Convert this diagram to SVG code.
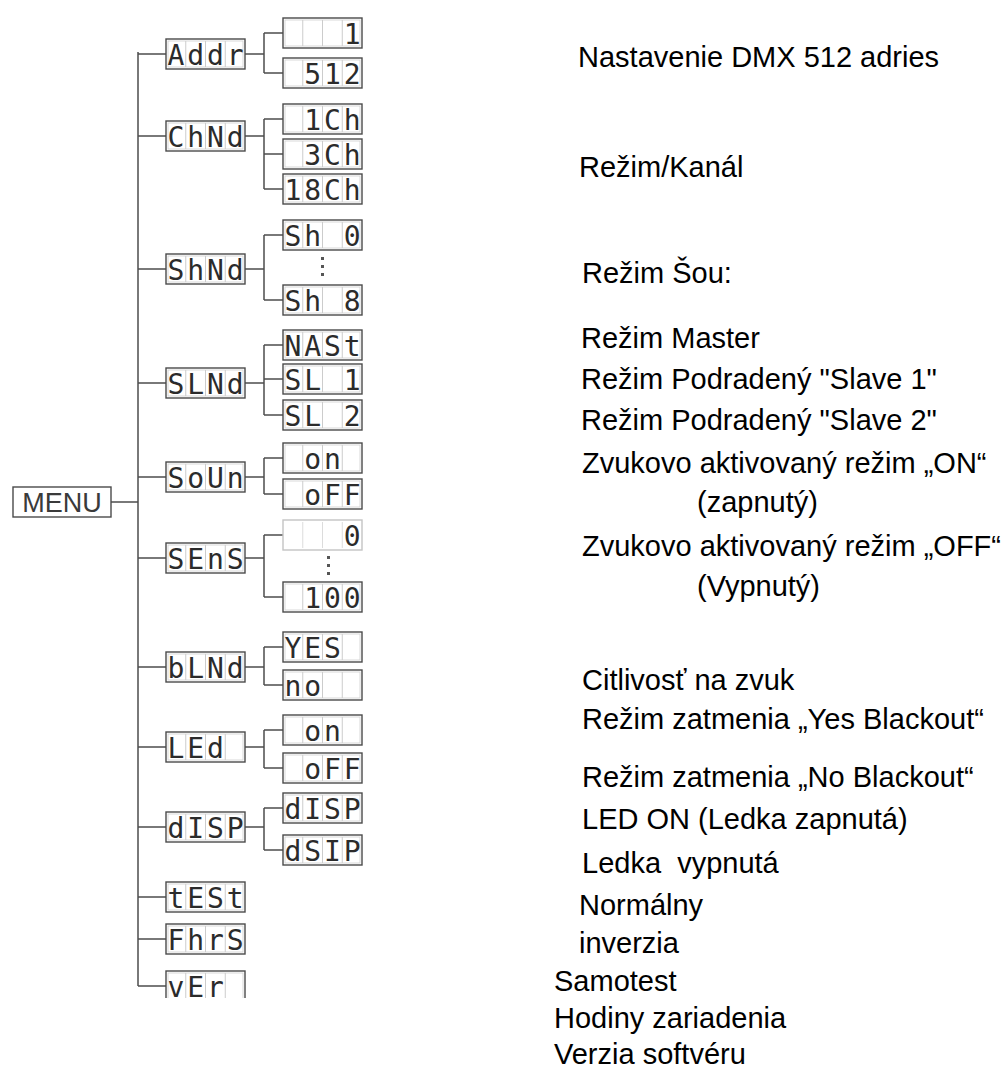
<svg xmlns="http://www.w3.org/2000/svg" width="1006" height="1071" viewBox="0 0 1006 1071">
<style>
.conn{fill:none;stroke:#4d4d4d;stroke-width:1.5}
.seg{font-family:"DejaVu Sans Mono","Liberation Mono",monospace;font-size:28px;fill:#2b2b2b;text-anchor:middle}
.lbl{font-family:"Liberation Sans",Arial,sans-serif;font-size:29px;fill:#000;white-space:pre}
.menu{font-family:"Liberation Sans",Arial,sans-serif;font-size:27px;fill:#3a3a3a;text-anchor:middle}
.dot{fill:#555}
</style>
<defs>
<g id="lcd">
<rect x="0" y="0" width="79" height="30" fill="#fff" stroke="#4a4a4a" stroke-width="1.4"/>
<rect x="2" y="2" width="75" height="26" fill="none" stroke="#cfcfcf" stroke-width="0.8"/>
<path d="M19.75 2v26M39.5 2v26M59.25 2v26" stroke="#cccccc" stroke-width="1"/>
</g>
<g id="lcdFaint">
<rect x="0" y="0" width="79" height="30" fill="#fff" stroke="#c4c4c4" stroke-width="1.4"/>
<path d="M19.75 2v26M39.5 2v26M59.25 2v26" stroke="#dcdcdc" stroke-width="1"/>
</g>
<clipPath id="clipVer"><rect x="150" y="960" width="110" height="38"/></clipPath>
</defs>

<g id="connectors" class="conn">
<path d="M138 52V986"/>
<path d="M111 502H138"/>
<path d="M138 54H166M138 136H166M138 269H166M138 383H166M138 477H166M138 558H166M138 667H166M138 747H166M138 827H166M138 897H166M138 939H166M138 986H166"/>
<path d="M245 54H264M264 33V73M264 33H283M264 73H283"/>
<path d="M245 136H264M264 119V189M264 119H283M264 154H283M264 189H283"/>
<path d="M245 269H264M264 235V300M264 235H283M264 300H283"/>
<path d="M245 383H264M264 345V415M264 345H283M264 379H283M264 415H283"/>
<path d="M245 477H264M264 458V494M264 458H283M264 494H283"/>
<path d="M245 558H264M264 535V597M264 535H283M264 597H283"/>
<path d="M245 667H264M264 647V685M264 647H283M264 685H283"/>
<path d="M245 747H264M264 730V768M264 730H283M264 768H283"/>
<path d="M245 827H264M264 808V850M264 808H283M264 850H283"/>
</g>

<g id="menu">
<rect x="13" y="487" width="98" height="30" fill="#fff" stroke="#4a4a4a" stroke-width="1.4"/>
<text class="menu" x="62" y="512">MENU</text>
</g>

<g id="addr"><use href="#lcd" x="166" y="39"/><text class="seg" x="176 195.6 215.4 235.1" y="65">Addr</text></g>
<g id="addr-1"><use href="#lcd" x="283" y="18"/><text class="seg" x="352.1" y="44">1</text></g>
<g id="addr-512"><use href="#lcd" x="283" y="58"/><text class="seg" x="312.6 332.4 352.1" y="84">512</text></g>

<g id="chnd"><use href="#lcd" x="166" y="121"/><text class="seg" x="176 195.6 215.4 235.1" y="147">ChNd</text></g>
<g id="ch-1"><use href="#lcd" x="283" y="104"/><text class="seg" x="312.6 332.4 352.1" y="130">1Ch</text></g>
<g id="ch-3"><use href="#lcd" x="283" y="139"/><text class="seg" x="312.6 332.4 352.1" y="165">3Ch</text></g>
<g id="ch-18"><use href="#lcd" x="283" y="174"/><text class="seg" x="293 312.6 332.4 352.1" y="200">18Ch</text></g>

<g id="shnd"><use href="#lcd" x="166" y="254"/><text class="seg" x="176 195.6 215.4 235.1" y="280">ShNd</text></g>
<g id="sh-0"><use href="#lcd" x="283" y="220"/><text class="seg" x="293 312.6 332.4 352.1" y="246">Sh 0</text></g>
<g id="sh-dots"><rect class="dot" x="321" y="257" width="3" height="3"/><rect class="dot" x="321" y="265" width="3" height="3"/><rect class="dot" x="321" y="273" width="3" height="3"/></g>
<g id="sh-8"><use href="#lcd" x="283" y="285"/><text class="seg" x="293 312.6 332.4 352.1" y="311">Sh 8</text></g>

<g id="slnd"><use href="#lcd" x="166" y="368"/><text class="seg" x="176 195.6 215.4 235.1" y="394">SLNd</text></g>
<g id="sl-mast"><use href="#lcd" x="283" y="330"/><text class="seg" x="293 312.6 332.4 352.1" y="356">NASt</text></g>
<g id="sl-1"><use href="#lcd" x="283" y="364"/><text class="seg" x="293 312.6 332.4 352.1" y="390">SL 1</text></g>
<g id="sl-2"><use href="#lcd" x="283" y="400"/><text class="seg" x="293 312.6 332.4 352.1" y="426">SL 2</text></g>

<g id="soun"><use href="#lcd" x="166" y="462"/><text class="seg" x="176 195.6 215.4 235.1" y="488">SoUn</text></g>
<g id="soun-on"><use href="#lcd" x="283" y="443"/><text class="seg" x="312.6 332.4" y="469">on</text></g>
<g id="soun-off"><use href="#lcd" x="283" y="479"/><text class="seg" x="312.6 332.4 352.1" y="505">oFF</text></g>

<g id="sens"><use href="#lcd" x="166" y="543"/><text class="seg" x="176 195.6 215.4 235.1" y="569">SEnS</text></g>
<g id="sens-0"><use href="#lcdFaint" x="283" y="520"/><text class="seg" x="352.1" y="546">0</text></g>
<g id="sens-dots"><rect class="dot" x="327" y="556" width="3" height="3"/><rect class="dot" x="327" y="564" width="3" height="3"/><rect class="dot" x="327" y="572" width="3" height="3"/></g>
<g id="sens-100"><use href="#lcd" x="283" y="582"/><text class="seg" x="312.6 332.4 352.1" y="608">100</text></g>

<g id="blnd"><use href="#lcd" x="166" y="652"/><text class="seg" x="176 195.6 215.4 235.1" y="678">bLNd</text></g>
<g id="blnd-yes"><use href="#lcd" x="283" y="632"/><text class="seg" x="293 312.6 332.4" y="658">YES</text></g>
<g id="blnd-no"><use href="#lcd" x="283" y="670"/><text class="seg" x="293 312.6" y="696">no</text></g>

<g id="led"><use href="#lcd" x="166" y="732"/><text class="seg" x="176 195.6 215.4" y="758">LEd</text></g>
<g id="led-on"><use href="#lcd" x="283" y="715"/><text class="seg" x="312.6 332.4" y="741">on</text></g>
<g id="led-off"><use href="#lcd" x="283" y="753"/><text class="seg" x="312.6 332.4 352.1" y="779">oFF</text></g>

<g id="disp"><use href="#lcd" x="166" y="812"/><text class="seg" x="176 195.6 215.4 235.1" y="838">dISP</text></g>
<g id="disp-n"><use href="#lcd" x="283" y="793"/><text class="seg" x="293 312.6 332.4 352.1" y="819">dISP</text></g>
<g id="disp-i"><use href="#lcd" x="283" y="835"/><text class="seg" x="293 312.6 332.4 352.1" y="861">dSIP</text></g>

<g id="test"><use href="#lcd" x="166" y="882"/><text class="seg" x="176 195.6 215.4 235.1" y="908">tESt</text></g>
<g id="fhrs"><use href="#lcd" x="166" y="924"/><text class="seg" x="176 195.6 215.4 235.1" y="950">FhrS</text></g>
<g id="ver" clip-path="url(#clipVer)"><use href="#lcd" x="166" y="971"/><text class="seg" x="176 195.6 215.4" y="997">vEr</text></g>

<g id="labels">
<text class="lbl" x="578" y="67">Nastavenie DMX 512 adries</text>
<text class="lbl" x="579" y="177">Režim/Kanál</text>
<text class="lbl" x="582" y="283">Režim Šou:</text>
<text class="lbl" x="581" y="348">Režim Master</text>
<text class="lbl" x="581" y="389">Režim Podradený "Slave 1"</text>
<text class="lbl" x="581" y="430">Režim Podradený "Slave 2"</text>
<text class="lbl" x="582" y="473">Zvukovo aktivovaný režim „ON“</text>
<text class="lbl" x="697" y="512">(zapnutý)</text>
<text class="lbl" x="582" y="556">Zvukovo aktivovaný režim „OFF“</text>
<text class="lbl" x="697" y="596">(Vypnutý)</text>
<text class="lbl" x="582" y="690">Citlivosť na zvuk</text>
<text class="lbl" x="582" y="729">Režim zatmenia „Yes Blackout“</text>
<text class="lbl" x="582" y="787">Režim zatmenia „No Blackout“</text>
<text class="lbl" x="582" y="829">LED ON (Ledka zapnutá)</text>
<text class="lbl" x="582" y="873">Ledka  vypnutá</text>
<text class="lbl" x="579" y="915">Normálny</text>
<text class="lbl" x="579" y="953">inverzia</text>
<text class="lbl" x="554" y="991">Samotest</text>
<text class="lbl" x="554" y="1028">Hodiny zariadenia</text>
<text class="lbl" x="554" y="1064">Verzia softvéru</text>
</g>
</svg>
